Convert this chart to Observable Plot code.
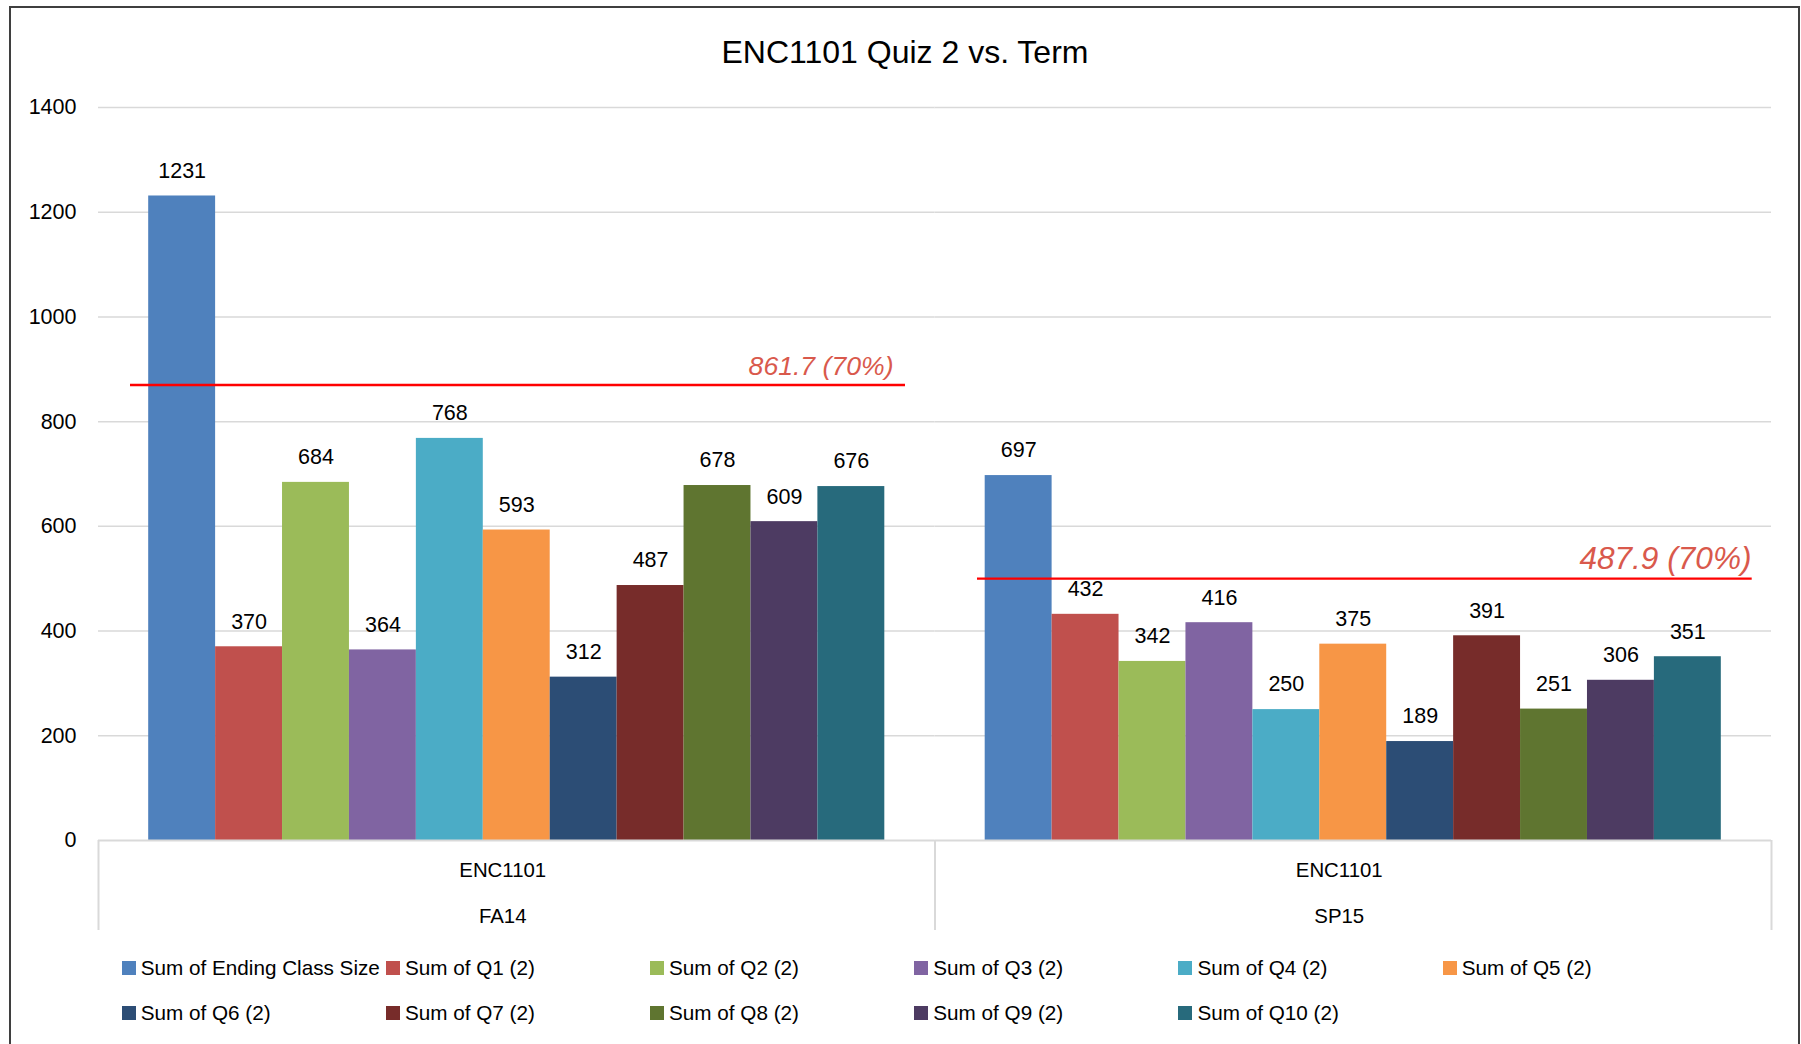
<!DOCTYPE html>
<html>
<head>
<meta charset="utf-8">
<script src="https://cdn.jsdelivr.net/npm/d3@7"></script>
<script src="https://cdn.jsdelivr.net/npm/@observablehq/plot@0.6"></script>
<style>
  html, body { margin: 0; padding: 0; background: #fff; overflow: hidden; }
  #page { position: relative; width: 1801px; height: 1044px; overflow: hidden; font-family: "Liberation Sans", Arial, sans-serif; }
  #frame { position: absolute; left: 9px; top: 6px; width: 1787px; height: 1100px; border: 2px solid #3f3f3f; }
  #title { position: absolute; left: 0; top: 32px; width: 1810px; height: 40px; line-height: 40px; text-align: center; font-size: 32px; color: #000; }
  #chart { position: absolute; left: 0; top: 90px; }
  #legend { position: absolute; left: 121.7px; top: 945.5px; display: grid; grid-template-columns: repeat(6, 264.2px); grid-auto-rows: 45px; }
  .item { display: flex; align-items: center; font-size: 20.7px; color: #000; white-space: nowrap; }
  .sw { width: 14px; height: 14px; margin-right: 5px; flex: none; }
</style>
</head>
<body>
<div id="page">
  <div id="frame"></div>
  <div id="title"></div>
  <div id="chart"></div>
  <div id="legend"></div>
</div>
<script>
// ---- data ----
const chartTitle = "ENC1101 Quiz 2 vs. Term";
const terms = ["FA14", "SP15"];
const courses = ["ENC1101", "ENC1101"];
const seriesNames = [
  "Sum of Ending Class Size", "Sum of Q1 (2)", "Sum of Q2 (2)", "Sum of Q3 (2)",
  "Sum of Q4 (2)", "Sum of Q5 (2)", "Sum of Q6 (2)", "Sum of Q7 (2)",
  "Sum of Q8 (2)", "Sum of Q9 (2)", "Sum of Q10 (2)"
];
const fa14Values = [1231, 370, 684, 364, 768, 593, 312, 487, 678, 609, 676];
const sp15Values = [697, 432, 342, 416, 250, 375, 189, 391, 251, 306, 351];
const yTicks = [0, 200, 400, 600, 800, 1000, 1200, 1400];
const refLineValues = [870, 500];          // where the 70% lines are drawn
const refLineLabels = ["861.7 (70%)", "487.9 (70%)"];
const palette = ["#4F81BD", "#C0504D", "#9BBB59", "#8064A2", "#4BACC6", "#F79646",
                 "#2C4D75", "#772C2A", "#5F7530", "#4D3B62", "#276A7C"];

// ---- tables built from the arrays ----
const valuesByTerm = [fa14Values, sp15Values];
const rows = [];
terms.forEach((t, ti) => seriesNames.forEach((s, si) => rows.push({term: t, series: s, value: valuesByTerm[ti][si]})));
const categoryRows = terms.map((t, i) => ({term: t, course: courses[i]}));
const refRows = terms.map((t, i) => ({term: t, value: refLineValues[i], label: refLineLabels[i]}));

// ---- layout ----
const W = 1801, H = 850;
const mL = 98, mR = 30, mT = 17, mB = 100;
const plotH = H - mT - mB;
const facetW = (W - mL - mR) / terms.length;
const padOuter = 0.75;
const step = facetW / (seriesNames.length + 2 * padOuter);
const edgeOffset = (padOuter + 0.5) * step;
const font = "'Liberation Sans', Arial, sans-serif";
const grid = "#d9d9d9";

document.getElementById("title").textContent = chartTitle;

const chart = Plot.plot({
  width: W, height: H,
  marginTop: mT, marginBottom: mB, marginLeft: mL, marginRight: mR,
  style: {fontFamily: font, fontSize: "21.5px", color: "#000", background: "transparent", overflow: "visible"},
  fx: {domain: terms, padding: 0, round: false, axis: null, label: null},
  x: {domain: seriesNames, paddingInner: 0, paddingOuter: padOuter, round: false, axis: null, label: null},
  y: {domain: [0, 1400], axis: null, label: null},
  color: {domain: seriesNames, range: palette},
  marks: [
    Plot.ruleY(yTicks.filter(d => d > 0), {stroke: grid, strokeWidth: 1.5}),
    Plot.barY(rows, {fx: "term", x: "series", y: "value", fill: "series"}),
    Plot.ruleY([0], {stroke: grid, strokeWidth: 2}),
    // category axis separators
    Plot.ruleX(categoryRows, {fx: "term", x: () => seriesNames[0], dx: -edgeOffset,
      insetTop: plotH, insetBottom: -90, stroke: grid, strokeWidth: 2}),
    Plot.ruleX(categoryRows.slice(-1), {fx: "term", x: () => seriesNames[seriesNames.length - 1], dx: edgeOffset,
      insetTop: plotH, insetBottom: -90, stroke: grid, strokeWidth: 2}),
    Plot.axisY(yTicks, {tickSize: 0, tickPadding: 22, fontSize: 21.5, fill: "#000",
      tickFormat: d => String(d), label: null}),
    Plot.text(rows, {fx: "term", x: "series", y: "value", text: d => String(d.value),
      dy: -25, lineAnchor: "middle", fontSize: 21.5, fill: "#000"}),
    Plot.text(categoryRows, {fx: "term", text: "course", frameAnchor: "bottom", dy: 29.5, dx: -14,
      lineAnchor: "middle", fontSize: 20.4, fill: "#000"}),
    Plot.text(categoryRows, {fx: "term", text: "term", frameAnchor: "bottom", dy: 75.5, dx: -14,
      lineAnchor: "middle", fontSize: 20.4, fill: "#000"}),
    // 70% reference lines
    Plot.ruleY(refRows.slice(0, 1), {fx: "term", y: "value", insetLeft: 32, insetRight: 29.5, stroke: "#ff0000", strokeWidth: 2.3}),
    Plot.ruleY(refRows.slice(1, 2), {fx: "term", y: "value", insetLeft: 42.5, insetRight: 19.3, stroke: "#ff0000", strokeWidth: 2.3}),
    Plot.text(refRows.slice(0, 1), {fx: "term", y: "value", text: "label", frameAnchor: "right", textAnchor: "end",
      dx: -41.5, dy: -9.5, lineAnchor: "bottom", fontSize: 26.6, fontStyle: "italic", fill: "#d9594c"}),
    Plot.text(refRows.slice(1, 2), {fx: "term", y: "value", text: "label", frameAnchor: "right", textAnchor: "end",
      dx: -20, dy: -10, lineAnchor: "bottom", fontSize: 31.6, fontStyle: "italic", fill: "#d9594c"})
  ]
});
document.getElementById("chart").appendChild(chart);

// legend built from the same arrays
const legend = document.getElementById("legend");
seriesNames.forEach((s, i) => {
  const item = document.createElement("div");
  item.className = "item";
  const sw = document.createElement("span");
  sw.className = "sw";
  sw.style.background = palette[i];
  const label = document.createElement("span");
  label.textContent = s;
  item.appendChild(sw);
  item.appendChild(label);
  legend.appendChild(item);
});
</script>
</body>
</html>
